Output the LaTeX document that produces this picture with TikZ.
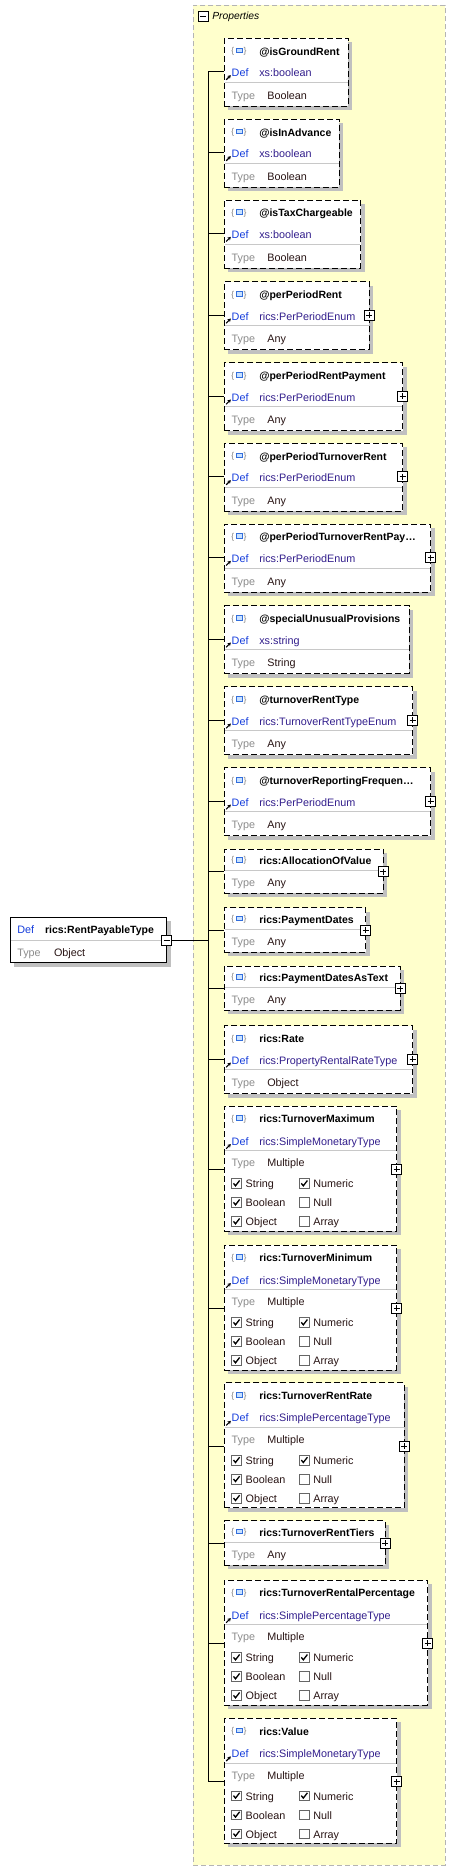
\documentclass[tikz,border=0pt]{standalone}
\usepackage{fontspec}
\setmainfont{Liberation Sans}
\usetikzlibrary{arrows.meta}
\definecolor{defblue}{RGB}{20,60,220}
\definecolor{defval}{RGB}{50,30,140}
\definecolor{typegray}{RGB}{140,140,140}
\definecolor{typeval}{RGB}{40,20,20}
\definecolor{propfill}{RGB}{255,255,204}
\definecolor{propborder}{RGB}{180,180,180}
\definecolor{shadowc}{RGB}{192,192,192}
\definecolor{divc}{RGB}{200,200,200}
\definecolor{bracegray}{RGB}{130,130,130}
\definecolor{iconblue}{RGB}{50,110,220}
\definecolor{iconfill}{RGB}{200,225,255}
\tikzset{
  pbox/.style={draw=black, fill=white, dash pattern=on 6pt off 3pt, line width=0.9pt, rectangle, inner sep=0pt, outer sep=0pt, anchor=north west},
  rootbox/.style={draw=black, fill=white, line width=0.9pt, rectangle, inner sep=0pt, outer sep=0pt, anchor=north west},
  propbox/.style={draw=propborder, fill=propfill, dash pattern=on 5pt off 3pt, line width=0.8pt, rectangle, inner sep=0pt, anchor=north west},
  divline/.style={draw=divc, line width=0.8pt},
  shadowfill/.style={fill=shadowc},
  txt/.style={inner sep=0pt, outer sep=0pt, anchor=base west},
  titlet/.style={txt, font=\fontsize{10.5}{12}\selectfont\bfseries, text=black},
  deflab/.style={txt, font=\fontsize{10.8}{12}\selectfont, text=defblue},
  defval/.style={txt, font=\fontsize{10.8}{12}\selectfont, text=defval},
  typelab/.style={txt, font=\fontsize{10.8}{12}\selectfont, text=typegray},
  typeval/.style={txt, font=\fontsize{10.8}{12}\selectfont, text=typeval},
  proptext/.style={txt, font=\fontsize{10.3}{12}\selectfont\itshape, text=black},
  bracet/.style={inner sep=0pt, outer sep=0pt, font=\fontsize{8.5}{9}\selectfont, text=bracegray},
  iconsq/.style={draw=iconblue, fill=iconfill, line width=0.9pt},
  refarrow/.style={-{Stealth[length=3.2pt,width=3.8pt]}, line width=1.1pt, black},
  conn/.style={draw=black, line width=0.9pt},
  plusbox/.style={draw=black, fill=white, minimum size=10pt, inner sep=0pt, line width=0.8pt,
    path picture={\draw[line width=0.8pt] ([xshift=2pt]path picture bounding box.west) -- ([xshift=-2pt]path picture bounding box.east)
      ([yshift=-2pt]path picture bounding box.north) -- ([yshift=2pt]path picture bounding box.south);}},
  minusbox/.style={draw=black, fill=white, minimum size=10pt, inner sep=0pt, line width=0.8pt,
    path picture={\draw[line width=0.8pt] ([xshift=2pt]path picture bounding box.west) -- ([xshift=-2pt]path picture bounding box.east);}},
  chkbox/.style={draw=black!60, fill=white, minimum size=9.5pt, inner sep=0pt, line width=0.8pt},
  chkmark/.style={draw=black, line width=1.3pt},
}
% icon {[]} ; #1 name, #2 top, #3 vertical offset
\newcommand\xIcon[3]{%
  \node[bracet, anchor=base west] (#1-lb) at (231.3,#2+15.3+#3) {\{};
  \node[bracet, anchor=base east] (#1-rb) at (246.5,#2+15.3+#3) {\}};
  \draw[iconsq] (236.3,#2+9.8+#3) rectangle (242,#2+14.6+#3);
}
\newcommand\xArrow[1]{\draw[refarrow] (226.2,#1+41.5) -- (230.8,#1+36.9);}
% three-row box: name, top, right, title, def, type, plus
\newcommand\xBoxA[7]{%
  \pgfmathsetmacro\xw{#3-224.3}%
  \fill[shadowfill] (228.3,#2+4) rectangle (#3+4,#2+72);
  \node[pbox, minimum width=\xw pt, minimum height=68pt] (#1) at (224.3,#2) {};
  \draw[divline] (224.8,#2+44) -- (#3-0.5,#2+44);
  \xIcon{#1}{#2}{0}
  \node[titlet] (#1-title) at (259.3,#2+16.7) {#4};
  \node[deflab] (#1-deflab) at (231.7,#2+38.4) {Def};
  \node[defval] (#1-def) at (259.3,#2+38.4) {#5};
  \node[typelab] (#1-typelab) at (231.7,#2+61) {Type};
  \node[typeval] (#1-type) at (267.3,#2+61) {#6};
  \xArrow{#2}
  \coordinate (#1-in) at (224.3,#2+33.5);
  \ifnum#7=1 \node[plusbox] (#1-plus) at (#3,#2+33.5) {};\fi
}
% two-row box: name, top, right, title
\newcommand\xBoxB[4]{%
  \pgfmathsetmacro\xw{#3-224.3}%
  \fill[shadowfill] (228.3,#2+4) rectangle (#3+4,#2+48.3);
  \node[pbox, minimum width=\xw pt, minimum height=44.3pt] (#1) at (224.3,#2) {};
  \draw[divline] (224.8,#2+21.7) -- (#3-0.5,#2+21.7);
  \xIcon{#1}{#2}{-1.5}
  \node[titlet] (#1-title) at (259.3,#2+15.8) {#4};
  \node[typelab] (#1-typelab) at (231.7,#2+37.7) {Type};
  \node[typeval] (#1-type) at (267.3,#2+37.7) {Any};
  \coordinate (#1-in) at (224.3,#2+22.5);
  \node[plusbox] (#1-plus) at (#3,#2+22.5) {};
}
% checkbox: name, center x, baseline y, checked
\newcommand\xChk[4]{%
  \node[chkbox] (#1) at (#2,#3-4.2) {};
  \ifnum#4=1 \draw[chkmark] (#2-3,#3-4.4) -- (#2-1,#3-1.9) -- (#2+3.1,#3-7.2);\fi
}
% multiple-type box: name, top, right, title, def
\newcommand\xBoxM[5]{%
  \pgfmathsetmacro\xw{#3-224.3}%
  \fill[shadowfill] (228.3,#2+4) rectangle (#3+4,#2+129);
  \node[pbox, minimum width=\xw pt, minimum height=125pt] (#1) at (224.3,#2) {};
  \draw[divline] (224.8,#2+44.7) -- (#3-0.5,#2+44.7);
  \xIcon{#1}{#2}{0}
  \node[titlet] (#1-title) at (259.3,#2+16.7) {#4};
  \node[deflab] (#1-deflab) at (231.7,#2+39) {Def};
  \node[defval] (#1-def) at (259.3,#2+39) {#5};
  \node[typelab] (#1-typelab) at (231.7,#2+60.7) {Type};
  \node[typeval] (#1-type) at (267.3,#2+60.7) {Multiple};
  \xArrow{#2+1.2}
  \xChk{#1-c1}{236.5}{#2+81.7}{1}
  \node[typeval] (#1-t1) at (245.7,#2+81.7) {String};
  \xChk{#1-c2}{304.3}{#2+81.7}{1}
  \node[typeval] (#1-t2) at (313.3,#2+81.7) {Numeric};
  \xChk{#1-c3}{236.5}{#2+100.7}{1}
  \node[typeval] (#1-t3) at (245.7,#2+100.7) {Boolean};
  \xChk{#1-c4}{304.3}{#2+100.7}{0}
  \node[typeval] (#1-t4) at (313.3,#2+100.7) {Null};
  \xChk{#1-c5}{236.5}{#2+119.7}{1}
  \node[typeval] (#1-t5) at (245.7,#2+119.7) {Object};
  \xChk{#1-c6}{304.3}{#2+119.7}{0}
  \node[typeval] (#1-t6) at (313.3,#2+119.7) {Array};
  \coordinate (#1-in) at (224.3,#2+63.3);
  \node[plusbox] (#1-plus) at (#3,#2+63.3) {};
}
\begin{document}
\begin{tikzpicture}[x=1pt,y=-1pt]
\useasboundingbox[fill=white] (0,0) rectangle (456,1871);
% container
\node[propbox, minimum width=252pt, minimum height=1860pt] (props) at (193,5) {};
\node[minusbox] (props-minus) at (203.3,16) {};
\node[proptext] (props-label) at (212.3,19.6) {Properties};
% root
\fill[shadowfill] (14,921.3) rectangle (170.7,966.7);
\node[rootbox, minimum width=156.7pt, minimum height=45.4pt] (root) at (10,917.3) {};
\draw[divline] (10.5,940) -- (166.2,940);
\node[deflab] (root-deflab) at (17.3,933.3) {Def};
\node[titlet] (root-title) at (45,933.3) {rics:RentPayableType};
\node[typelab] (root-typelab) at (17.3,956) {Type};
\node[typeval] (root-type) at (54,956) {Object};
\node[minusbox] (root-minus) at (166.7,940.7) {};
% children
\xBoxA{b1}{38.3}{348}{@isGroundRent}{xs:boolean}{Boolean}{0}
\xBoxA{b2}{119.3}{339}{@isInAdvance}{xs:boolean}{Boolean}{0}
\xBoxA{b3}{200}{360.7}{@isTaxChargeable}{xs:boolean}{Boolean}{0}
\xBoxA{b4}{281.7}{369}{@perPeriodRent}{rics:PerPeriodEnum}{Any}{1}
\xBoxA{b5}{362.7}{402.7}{@perPeriodRentPayment}{rics:PerPeriodEnum}{Any}{1}
\xBoxA{b6}{443.3}{402.7}{@perPeriodTurnoverRent}{rics:PerPeriodEnum}{Any}{1}
\xBoxA{b7}{524}{430.7}{@perPeriodTurnoverRentPay…}{rics:PerPeriodEnum}{Any}{1}
\xBoxA{b8}{605.7}{409}{@specialUnusualProvisions}{xs:string}{String}{0}
\xBoxA{b9}{686.7}{412.7}{@turnoverRentType}{rics:TurnoverRentTypeEnum}{Any}{1}
\xBoxA{b10}{767.7}{430.7}{@turnoverReportingFrequen…}{rics:PerPeriodEnum}{Any}{1}
\xBoxB{b11}{849}{383.3}{rics:AllocationOfValue}
\xBoxB{b12}{907.7}{365.7}{rics:PaymentDates}
\xBoxB{b13}{966}{400}{rics:PaymentDatesAsText}
\xBoxA{b14}{1025.7}{412.7}{rics:Rate}{rics:PropertyRentalRateType}{Object}{1}
\xBoxM{b15}{1106}{396.7}{rics:TurnoverMaximum}{rics:SimpleMonetaryType}
\xBoxM{b16}{1245}{396.7}{rics:TurnoverMinimum}{rics:SimpleMonetaryType}
\xBoxM{b17}{1382.7}{404.3}{rics:TurnoverRentRate}{rics:SimplePercentageType}
\xBoxB{b18}{1520.7}{385}{rics:TurnoverRentTiers}
\xBoxM{b19}{1580}{427.7}{rics:TurnoverRentalPercentage}{rics:SimplePercentageType}
\xBoxM{b20}{1718.3}{396.7}{rics:Value}{rics:SimpleMonetaryType}
% connectors
\coordinate (trunk) at (208.3,0);
\draw[conn] (trunk|-b1-in) -- (trunk|-b20-in);
\foreach \i in {1,...,20} {\draw[conn] (trunk|-b\i-in) -- (b\i-in);}
\draw[conn] (root-minus.east) -- (trunk|-root-minus);
\end{tikzpicture}
\end{document}
